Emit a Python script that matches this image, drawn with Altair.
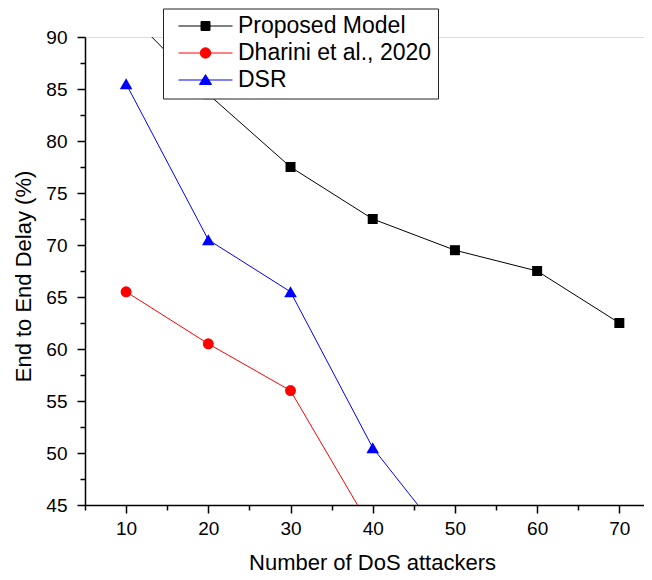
import altair as alt
import pandas as pd

# ---- data ----
series_names = ["Proposed Model", "Dharini et al., 2020", "DSR"]
series_colors = ["#000000", "#FF0000", "#0000FF"]

proposed_x = [10, 20, 30, 40, 50, 60, 70]
proposed_y = [92.5, 84.5, 77.5, 72.5, 69.5, 67.5, 62.5]

dharini_x = [10, 20, 30, 40]
dharini_y = [65.5, 60.5, 56.0, 42.5]

dsr_x = [10, 20, 30, 40, 50]
dsr_y = [85.5, 70.5, 65.5, 50.5, 40.5]

x_ticks = [10, 20, 30, 40, 50, 60, 70]
x_minor = [5, 15, 25, 35, 45, 55, 65]
y_ticks = [45, 50, 55, 60, 65, 70, 75, 80, 85, 90]
y_minor = [47.5, 52.5, 57.5, 62.5, 67.5, 72.5, 77.5, 82.5, 87.5]

rows = []
for name, xs, ys in [(series_names[0], proposed_x, proposed_y),
                     (series_names[1], dharini_x, dharini_y),
                     (series_names[2], dsr_x, dsr_y)]:
    for i, (a, b) in enumerate(zip(xs, ys)):
        rows.append({"series": name, "x": a, "y": b, "order": i})
df = pd.DataFrame(rows)

FONT = "Liberation Sans"

xscale = alt.Scale(domain=[5, 73], nice=False, zero=False)
yscale = alt.Scale(domain=[45, 90], nice=False, zero=False)

x_main = alt.X("x:Q", scale=xscale, axis=alt.Axis(
    values=x_ticks, grid=False, tickSize=8, tickWidth=1.5, domainWidth=1.5,
    domainColor="black", tickColor="black", labelColor="black",
    labelFont=FONT, labelFontSize=19, labelPadding=6, format="d",
    title="Number of DoS attackers", titleFont=FONT, titleFontSize=22,
    titleFontWeight="normal", titleColor="black", titleX=287, titleY=64,
    titleBaseline="alphabetic", titleAlign="center"))
y_main = alt.Y("y:Q", scale=yscale, axis=alt.Axis(
    values=y_ticks, grid=False, tickSize=8, tickWidth=1.5, domainWidth=1.5,
    domainColor="black", tickColor="black", labelColor="black",
    labelFont=FONT, labelFontSize=19, labelPadding=10, format="d",
    title="End to End Delay (%)", titleFont=FONT, titleFontSize=22,
    titleFontWeight="normal", titleColor="black", titleX=-62, titleY=239,
    titleAngle=-90, titleBaseline="middle", titleAlign="center"))

x_none = alt.X("x:Q", scale=xscale, axis=None)
y_none = alt.Y("y:Q", scale=yscale, axis=None)

shapes = ["square", "circle", "triangle-up"]
sizes = [100, 120, 160]
layers = []
for k, (name, col) in enumerate(zip(series_names, series_colors)):
    layers.append(
        alt.Chart(df).transform_filter(alt.datum.series == name)
        .mark_line(strokeWidth=1, color=col, clip=True)
        .encode(x=x_main if k == 0 else x_none, y=y_main if k == 0 else y_none,
                order="order:Q")
    )
for name, col, shp, sz in zip(series_names, series_colors, shapes, sizes):
    layers.append(
        alt.Chart(df).transform_filter(alt.datum.series == name)
        .mark_point(filled=True, shape=shp, size=sz, color=col, opacity=1, clip=True)
        .encode(x=x_none, y=y_none)
    )

# minor ticks via extra axes
minor = alt.Chart(df).mark_point(opacity=0).encode(
    x=alt.X("x:Q", scale=xscale, axis=alt.Axis(
        orient="bottom", values=x_minor, labels=False, domain=False, grid=False,
        tickSize=5, tickWidth=1.5, tickColor="black", title=None)),
    y=alt.Y("y:Q", scale=yscale, axis=alt.Axis(
        orient="left", values=y_minor, labels=False, domain=False, grid=False,
        tickSize=5, tickWidth=1.5, tickColor="black", title=None)),
)

# legend layer (no visible marks), custom symbols with line segment
legend_paths = [
    "M-6,0H6M-1,-1H1V1H-1Z",
    "M-6,0H6M-1.15,0A1.15,1.15 0 1,0 1.15,0A1.15,1.15 0 1,0 -1.15,0Z",
    "M-6,0H6M0,-1.2L1.35,1.0H-1.35Z",
]
leg = alt.Legend(
    title=None, orient="none", legendX=78, legendY=-28.5, zindex=1,
    labelFont=FONT, labelFontSize=23, labelColor="black", labelLimit=400,
    symbolSize=81, symbolStrokeWidth=1, symbolOpacity=1, symbolOffset=25, labelOffset=21,
    rowPadding=3, padding=6, fillColor="white", strokeColor="#222222",
)
legend_layer = alt.Chart(df).transform_filter("datum.x < 0").mark_point(filled=True, opacity=1).encode(
    x=x_none, y=y_none,
    shape=alt.Shape("series:N", scale=alt.Scale(domain=series_names, range=legend_paths), legend=leg),
    fill=alt.Fill("series:N", scale=alt.Scale(domain=series_names, range=series_colors), legend=leg),
    stroke=alt.Stroke("series:N", scale=alt.Scale(domain=series_names, range=series_colors), legend=leg),
)

chart = alt.layer(*layers, minor, legend_layer).resolve_axis(
    x="independent", y="independent"
).properties(
    width=559, height=468,
    autosize=alt.AutoSizeParams(type="none"),
    padding={"left": 77, "top": 29, "right": 0, "bottom": 70},
).configure_view(stroke=None).configure(background="white")

chart.save("out.html", embed_options={"renderer": "svg", "actions": False})
